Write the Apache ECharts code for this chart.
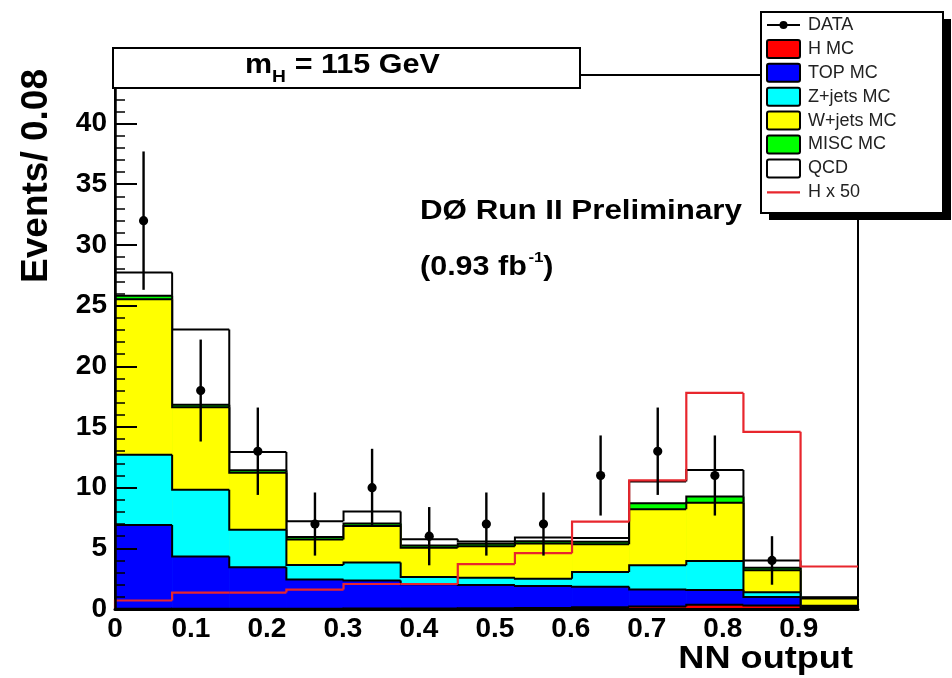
<!DOCTYPE html>
<html><head><meta charset="utf-8">
<script src="https://cdn.jsdelivr.net/npm/echarts@6/dist/echarts.min.js"></script>
<style>html,body{margin:0;padding:0;background:#fff}#c{width:952px;height:678px}</style>
</head><body><div id="c"></div>
<script>
// ---- data ----
const binEdges = [0,0.0752,0.1504,0.2256,0.3008,0.376,0.4512,0.5264,0.6016,0.6768,0.752,0.8272,0.9024,0.978];
const xTicks = [0,0.1,0.2,0.3,0.4,0.5,0.6,0.7,0.8,0.9];
// per-process contributions (events / bin)
const hMC      = [0.02,0.03,0.03,0.03,0.04,0.04,0.07,0.09,0.14,0.21,0.36,0.29,0.07];
const topMC    = [6.9,4.3,3.4,2.4,2.3,2.0,1.9,1.8,1.7,1.4,1.2,0.7,0.1];
const zjetsMC  = [5.8,5.5,3.1,1.2,1.5,0.6,0.6,0.6,1.2,2.0,2.4,0.4,0.1];
const wjetsMC  = [12.8,6.8,4.7,2.1,3.0,2.4,2.6,2.9,2.3,4.6,4.8,1.8,0.6];
const miscMC   = [0.3,0.2,0.2,0.2,0.2,0.2,0.2,0.2,0.2,0.5,0.5,0.2,0.05];
const qcd      = [1.9,6.2,1.5,1.3,1.0,0.5,0.2,0.3,0.3,1.8,2.2,0.6,0.05];
const hx50     = [0.7,1.35,1.35,1.6,2.06,2.06,3.7,4.6,7.2,10.6,17.8,14.6,3.5];
const dataVals = [32,18,13,7,10,6,7,7,11,13,11,4];
const dataErr  = [5.7,4.2,3.6,2.6,3.2,2.4,2.6,2.6,3.3,3.6,3.3,2.0];

const FONT = '"Liberation Sans", Arial, Helvetica, sans-serif';
const COLORS = {h:'#ff0000', top:'#0000ff', z:'#00ffff', w:'#ffff00', misc:'#00ff00', qcd:'#ffffff'};

// cumulative stack (bottom to top)
const layersBottomUp = [hMC, topMC, zjetsMC, wjetsMC, miscMC, qcd];
const cums = [];
let run = new Array(hMC.length).fill(0);
layersBottomUp.forEach(l => { run = run.map((v,i)=>v + l[i]); cums.push(run.slice()); });

function layerSeries(name, color, cum) {
  return {
    type: 'custom', name, clip: false,
    data: cum.map((v,i)=>[binEdges[i], binEdges[i+1], v]),
    encode: {x:[0,1], y:2},
    renderItem(params, api) {
      const i = params.dataIndex;
      const x0 = api.value(0), x1 = api.value(1), v = api.value(2);
      const pb = api.coord([x0, 0]), pt = api.coord([x1, v]);
      const prev = i > 0 ? cum[i-1] : 0;
      const pp = api.coord([x0, prev]);
      const ch = [
        {type:'rect', shape:{x:pb[0], y:pt[1], width:pt[0]-pb[0]+0.6, height:pb[1]-pt[1]}, style:{fill:color}},
        {type:'polyline', shape:{points:[[pb[0],pp[1]],[pb[0],pt[1]],[pt[0],pt[1]]]}, style:{stroke:'#000', lineWidth:2, fill:null}}
      ];
      if (i === cum.length-1) ch.push({type:'line', shape:{x1:pt[0],y1:pt[1],x2:pt[0],y2:pb[1]}, style:{stroke:'#000', lineWidth:2}});
      return {type:'group', children:ch};
    }
  };
}

const series = [
  layerSeries('QCD', COLORS.qcd, cums[5]),
  layerSeries('MISC MC', COLORS.misc, cums[4]),
  layerSeries('W+jets MC', COLORS.w, cums[3]),
  layerSeries('Z+jets MC', COLORS.z, cums[2]),
  layerSeries('TOP MC', COLORS.top, cums[1]),
  layerSeries('H MC', COLORS.h, cums[0]),
  {
    type:'custom', name:'H x 50', clip:false, z:5,
    data: hx50.map((v,i)=>[binEdges[i], binEdges[i+1], v]),
    encode:{x:[0,1], y:2},
    renderItem(params, api) {
      const i = params.dataIndex;
      const prev = i > 0 ? hx50[i-1] : 0;
      const a = api.coord([api.value(0), prev]);
      const b = api.coord([api.value(0), api.value(2)]);
      const c = api.coord([api.value(1), api.value(2)]);
      return {type:'polyline', shape:{points:[a,b,c]}, style:{stroke:'#e8262d', lineWidth:2.2, fill:null}};
    }
  },
  {
    type:'custom', name:'DATA', clip:false, z:6,
    data: dataVals.map((v,i)=>[(binEdges[i]+binEdges[i+1])/2, v, dataErr[i]]),
    encode:{x:0, y:1},
    renderItem(params, api) {
      const x = api.value(0), v = api.value(1), e = api.value(2);
      const p = api.coord([x, v]), lo = api.coord([x, v-e]), hi = api.coord([x, v+e]);
      return {type:'group', children:[
        {type:'line', shape:{x1:lo[0], y1:lo[1], x2:hi[0], y2:hi[1]}, style:{stroke:'#000', lineWidth:2.4}},
        {type:'circle', shape:{cx:p[0], cy:p[1], r:4.6}, style:{fill:'#000'}}
      ]};
    }
  }
];

// legend drawn as graphic
const legendItems = [
  {name:'DATA', kind:'data'},
  {name:'H MC', kind:'box', color:COLORS.h},
  {name:'TOP MC', kind:'box', color:COLORS.top},
  {name:'Z+jets MC', kind:'box', color:COLORS.z},
  {name:'W+jets MC', kind:'box', color:COLORS.w},
  {name:'MISC MC', kind:'box', color:COLORS.misc},
  {name:'QCD', kind:'box', color:COLORS.qcd},
  {name:'H x 50', kind:'line', color:'#e8262d'}
];
const legendChildren = [
  {type:'rect', z:100, shape:{x:769, y:19, width:182, height:201}, style:{fill:'#000'}},
  {type:'rect', z:101, shape:{x:761, y:12, width:182, height:201}, style:{fill:'#fff', stroke:'#000', lineWidth:2}}
];
legendItems.forEach((it, k) => {
  const cy = 25 + k * 23.9;
  if (it.kind === 'box') {
    legendChildren.push({type:'rect', z:102, shape:{x:767, y:cy-9, width:33, height:18, r:2}, style:{fill:it.color, stroke:'#000', lineWidth:2}});
  } else if (it.kind === 'data') {
    legendChildren.push({type:'line', z:102, shape:{x1:767, y1:cy, x2:800, y2:cy}, style:{stroke:'#000', lineWidth:2.2}});
    legendChildren.push({type:'circle', z:102, shape:{cx:783.5, cy:cy, r:4}, style:{fill:'#000'}});
  } else {
    legendChildren.push({type:'line', z:102, shape:{x1:767, y1:cy, x2:800, y2:cy}, style:{stroke:it.color, lineWidth:2.2}});
  }
  legendChildren.push({type:'text', z:102, x:808, y:cy, style:{text:it.name, font:'18px '+FONT, fill:'#222', verticalAlign:'middle', align:'left'}});
});

const SX = 1.13;
const option = {
  animation:false,
  backgroundColor:'#fff',
  grid:{left:115, right:94, top:75, bottom:69, show:true, borderColor:'#000', borderWidth:2, backgroundColor:'#fff'},
  xAxis:{
    type:'value', min:0, max:0.978, interval:0.1, z:10,
    axisLine:{show:true, onZero:false, lineStyle:{color:'#000', width:3}},
    axisTick:{show:false},
    splitLine:{show:false},
    axisLabel:{color:'#000', fontSize:28, fontWeight:'bold', fontFamily:FONT, margin:6, showMaxLabel:false,
      formatter:v => { const t = xTicks.find(q => Math.abs(q - v) < 1e-6); return t === undefined ? '' : (t === 0 ? '0' : t.toFixed(1)); }}
  },
  yAxis:{
    type:'value', min:0, max:44, interval:5, z:10,
    axisLine:{show:true, lineStyle:{color:'#000', width:2.5}},
    axisTick:{show:true, inside:true, length:22, lineStyle:{color:'#000', width:2}},
    minorTick:{show:true, splitNumber:5, length:10, lineStyle:{color:'#000', width:1.5}},
    splitLine:{show:false},
    axisLabel:{color:'#000', fontSize:28, fontWeight:'bold', fontFamily:FONT, margin:8, showMaxLabel:false}
  },
  series,
  graphic:[
    {type:'group', children:legendChildren},
    {type:'rect', z:100, shape:{x:113, y:48, width:467, height:40}, style:{fill:'#fff', stroke:'#000', lineWidth:2}},
    {type:'text', z:110, x:245, y:66, scaleX:SX, style:{text:'m', font:'bold 27px '+FONT, fill:'#000', verticalAlign:'middle'}},
    {type:'text', z:110, x:245+24*SX, y:77, scaleX:SX, style:{text:'H', font:'bold 17px '+FONT, fill:'#000', verticalAlign:'middle'}},
    {type:'text', z:110, x:245+36.5*SX, y:66, scaleX:SX, style:{text:' = 115 GeV', font:'bold 27px '+FONT, fill:'#000', verticalAlign:'middle'}},
    {type:'text', z:110, x:420, y:212, scaleX:1.16, style:{text:'DØ Run II Preliminary', font:'bold 27px '+FONT, fill:'#000', verticalAlign:'middle'}},
    {type:'text', z:110, x:420, y:268, scaleX:SX, style:{text:'(0.93 fb', font:'bold 27px '+FONT, fill:'#000', verticalAlign:'middle'}},
    {type:'text', z:110, x:420+96*SX, y:258, scaleX:SX, style:{text:'-1', font:'bold 15px '+FONT, fill:'#000', verticalAlign:'middle'}},
    {type:'text', z:110, x:420+109*SX, y:268, scaleX:SX, style:{text:')', font:'bold 27px '+FONT, fill:'#000', verticalAlign:'middle'}},
    {type:'text', z:110, x:853, y:659, scaleX:SX, style:{text:'NN output', font:'bold 32px '+FONT, fill:'#000', verticalAlign:'middle', align:'right'}},
    {type:'text', z:110, x:37, y:176, rotation:Math.PI/2, style:{text:'Events/ 0.08', font:'bold 37px '+FONT, fill:'#000', verticalAlign:'middle', align:'center'}}
  ]
};
const chart = echarts.init(document.getElementById('c'), null, {renderer:'canvas'});
chart.setOption(option);
</script>
</body></html>
